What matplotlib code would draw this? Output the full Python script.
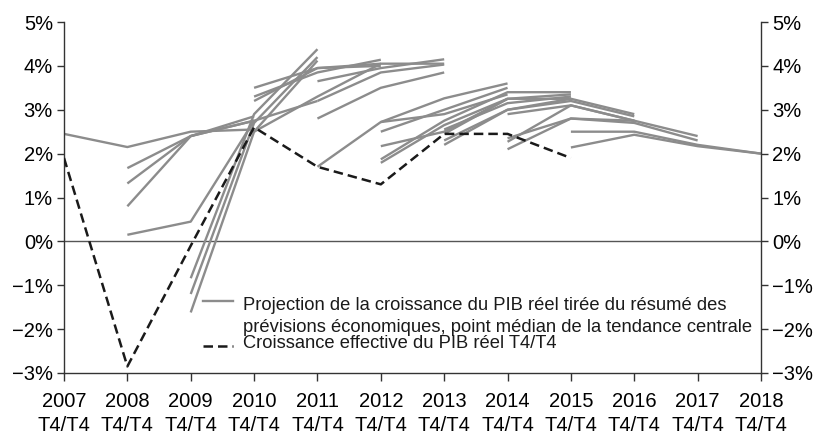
import matplotlib
matplotlib.use("Agg")
import matplotlib.pyplot as plt

plt.rcParams['font.family'] = ['Liberation Sans', 'DejaVu Sans']

# ---- data ----
years = list(range(2007, 2019))
year_labels = [f"{y}\nT4/T4" for y in years]
y_ticks = [-3, -2, -1, 0, 1, 2, 3, 4, 5]
y_tick_labels = ["\u22123%", "\u22122%", "\u22121%", "0%", "1%", "2%", "3%", "4%", "5%"]

actual_years = [2007, 2008, 2009, 2010, 2011, 2012, 2013, 2014, 2015]
actual_growth = [1.9, -2.85, -0.1, 2.6, 1.7, 1.3, 2.45, 2.45, 1.9]

proj_start = [2007,
              2008, 2008, 2008, 2008,
              2009, 2009, 2009,
              2010, 2010, 2010, 2010,
              2011, 2011, 2011, 2011,
              2012, 2012, 2012, 2012, 2012,
              2013, 2013, 2013, 2013,
              2014, 2014, 2014, 2014,
              2015, 2015]
proj_values = [
    [2.45, 2.15, 2.5, 2.55],
    [1.67, 2.4, 2.75],
    [0.8, 2.4, 2.85],
    [1.32, 2.4, 2.75],
    [0.15, 0.45, 2.75, 3.2],
    [-0.84, 2.9, 4.38],
    [-1.62, 2.5, 4.12],
    [-1.2, 2.7, 4.2],
    [3.2, 3.95, 4.0],
    [3.5, 3.95, 4.05],
    [3.3, 3.85, 4.14],
    [2.5, 3.3, 4.05, 4.05],
    [3.65, 3.95, 4.15],
    [3.2, 3.85, 4.03],
    [2.8, 3.5, 3.85],
    [1.7, 2.72, 3.26, 3.6],
    [2.5, 3.0, 3.5],
    [2.72, 2.9, 3.35],
    [2.17, 2.5, 3.25],
    [1.87, 2.75, 3.4, 3.4],
    [1.79, 2.65, 3.25, 3.35],
    [2.55, 3.15, 3.3],
    [2.45, 3.25, 3.25],
    [2.2, 3.0, 3.25, 2.9],
    [2.3, 3.0, 3.2, 2.85],
    [2.9, 3.1, 2.75],
    [2.27, 3.1, 2.75],
    [2.1, 2.8, 2.75, 2.4],
    [2.35, 2.8, 2.7, 2.3],
    [2.5, 2.5, 2.2, 2.0],
    [2.14, 2.43, 2.17, 2.0],
]

legend_proj_lines = ["Projection de la croissance du PIB réel tirée du résumé des",
                     "prévisions économiques, point médian de la tendance centrale"]
legend_actual = "Croissance effective du PIB réel T4/T4"

# ---- style ----
gray = "#8c8c8c"
axis_col = "#333333"

fig = plt.figure(figsize=(8.2, 4.34), dpi=100)
ax = fig.add_axes([64/820, 1-373/434, 697/820, 351/434])

for start, vals in zip(proj_start, proj_values):
    xs = list(range(start, start + len(vals)))
    ax.plot(xs, vals, color=gray, lw=1.7, solid_capstyle='butt', zorder=2)

ax.plot(actual_years, actual_growth, color="#1a1a1a", lw=1.8,
        dashes=(3.8, 2.0), zorder=3)

ax.axhline(0, color="#555555", lw=1.0, zorder=1)

ax.set_xlim(2007, 2018)
ax.set_ylim(-3, 5)
ax.set_xticks(years)
ax.set_xticklabels(year_labels, fontsize=14.5, linespacing=1.33)
ax.set_yticks(y_ticks)
ax.set_yticklabels(y_tick_labels, fontsize=14.5)
ax.tick_params(axis='y', which='both', left=True, right=True,
               labelleft=True, labelright=True, direction='out',
               length=5, width=1.0, color=axis_col, pad=3)
ax.tick_params(axis='x', direction='out', length=6, width=1.0,
               color=axis_col, pad=8)
for s in ['left', 'right', 'bottom']:
    ax.spines[s].set_color(axis_col)
    ax.spines[s].set_linewidth(1.0)
ax.spines['top'].set_visible(False)

# ---- legend (manual) ----
tr = ax.transAxes
ax.plot([0.1995, 0.2425], [0.205, 0.205], transform=tr, color=gray, lw=1.7,
        clip_on=False)
ax.plot([0.1995, 0.2425], [0.077, 0.077], transform=tr, color="#1a1a1a",
        lw=1.8, dashes=(3.8, 2.0), clip_on=False)
ax.text(0.2573, 0.1795, legend_proj_lines[0], transform=tr, fontsize=13.2,
        va='baseline', ha='left', color="#1a1a1a")
ax.text(0.2573, 0.1177, legend_proj_lines[1], transform=tr, fontsize=13.2,
        va='baseline', ha='left', color="#1a1a1a")
ax.text(0.2573, 0.0704, legend_actual, transform=tr, fontsize=13.2,
        va='baseline', ha='left', color="#1a1a1a")

fig.savefig("out.png", dpi=100)
